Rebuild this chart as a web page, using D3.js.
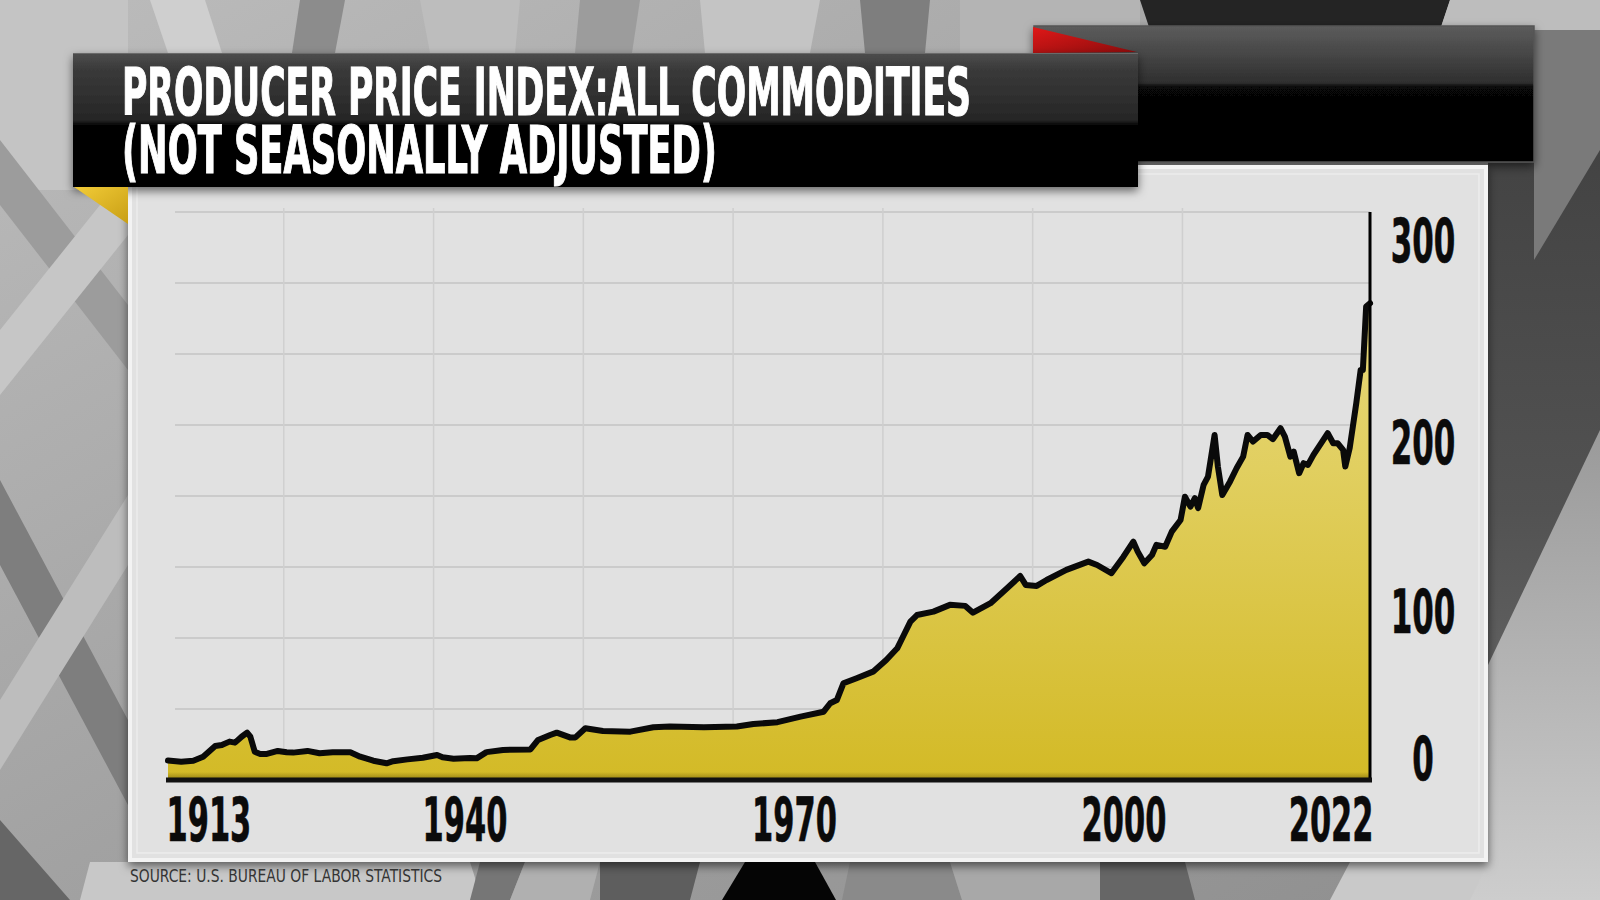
<!DOCTYPE html>
<html><head><meta charset="utf-8">
<script src="https://cdn.jsdelivr.net/npm/d3@7"></script>
<style>
html,body{margin:0;padding:0;background:#9a9a9a;overflow:hidden;}
svg{display:block;}
</style></head>
<body>
<svg id="chart" width="1600" height="900"></svg>
<script>
// ---------------- DATA ----------------
const years = [1913.0,1914.2,1915.3,1916.2,1917.3,1917.9,1918.6,1919.1,1919.7,1920.2,1920.5,1920.9,1921.4,1922.0,1923.0,1923.8,1924.4,1925.7,1926.8,1928.0,1929.6,1930.5,1931.7,1932.9,1933.5,1934.8,1936.2,1937.5,1938.0,1939.0,1940.5,1941.1,1942.0,1943.5,1946.0,1946.7,1947.8,1948.4,1949.6,1950.1,1951.0,1952.6,1955.1,1957.2,1958.7,1961.8,1964.8,1966.3,1968.5,1970.6,1972.7,1973.3,1973.9,1974.5,1975.7,1977.2,1978.4,1979.4,1980.0,1980.6,1981.2,1982.7,1984.2,1985.6,1986.3,1987.9,1989.4,1990.6,1991.1,1992.1,1993.0,1994.8,1996.8,1997.6,1998.9,2000.0,2000.9,2001.3,2001.9,2002.6,2003.0,2003.8,2004.4,2005.2,2005.6,2006.1,2006.5,2006.8,2007.3,2007.7,2008.3,2008.6,2009.0,2009.7,2010.3,2010.9,2011.3,2011.8,2012.5,2013.1,2013.6,2014.3,2014.7,2015.2,2015.5,2016.0,2016.4,2016.8,2017.3,2018.2,2018.6,2019.1,2019.5,2020.0,2020.2,2020.6,2021.2,2021.6,2021.8,2022.1,2022.45];
const ppiValues = [11.5,10.8,11.4,13.8,20.1,20.7,22.7,22.1,25.6,28.0,25.6,16.7,15.4,15.4,17.2,16.4,16.2,17.2,15.8,16.4,16.4,13.8,11.4,9.9,11.1,12.2,13.2,14.8,13.4,12.6,13.0,12.8,16.5,17.8,18.1,23.7,26.6,28.0,25.2,25.2,30.6,29.0,28.6,31.2,31.6,31.2,31.6,33.1,34.2,37.5,40.4,45.4,47.3,57.2,60.2,64.1,71.0,77.9,85.8,93.7,97.6,99.6,103.6,103.0,99.0,104.6,113.4,120.7,115.4,114.8,118.3,124.3,129.2,127.2,122.3,132.1,141.0,135.1,128.2,133.1,139.1,138.0,146.9,153.8,167.6,161.7,166.7,160.8,174.6,179.5,204.1,185.4,168.6,176.5,184.4,191.3,204.1,200.2,204.1,204.1,201.6,208.1,203.1,191.3,194.3,181.5,187.4,186.4,192.3,201.2,205.1,199.2,199.2,195.3,185.4,196.3,222.9,242.6,242.6,280.1,282.0];
const xTickYears = [1913, 1940, 1970, 2000, 2022];
const yTickValues = [0, 100, 200, 300];
const titleLines = ["PRODUCER PRICE INDEX:ALL COMMODITIES", "(NOT SEASONALLY ADJUSTED)"];
const sourceText = "SOURCE: U.S. BUREAU OF LABOR STATISTICS";

const series = years.map((yr, i) => ({year: yr, value: ppiValues[i]}));

// ---------------- SETUP ----------------
const svg = d3.select("#chart");
const defs = svg.append("defs");
const FONT = "'Liberation Sans Narrow','DejaVu Sans Condensed','Roboto','DejaVu Sans',sans-serif";

function linGrad(id, x1, y1, x2, y2, stops, user) {
  const g = defs.append("linearGradient").attr("id", id)
    .attr("x1", x1).attr("y1", y1).attr("x2", x2).attr("y2", y2);
  if (user) g.attr("gradientUnits", "userSpaceOnUse");
  stops.forEach(s => g.append("stop").attr("offset", s[0]).attr("stop-color", s[1]).attr("stop-opacity", s[2] == null ? 1 : s[2]));
}
linGrad("bgGrad", 0, 0, 1, 1, [[0, "#bcbcbc"], [0.5, "#a2a2a2"], [1, "#8e8e8e"]]);
linGrad("rightGrad", 0, 0, 0, 1, [[0, "#3e3e3e"], [0.55, "#525252"], [1, "#747474"]]);
linGrad("boxGrad", 0, 0, 0, 1, [[0, "#5c5c5c"], [0.2, "#474747"], [0.42, "#2e2e2e"], [0.445, "#070707"], [1, "#000"]]);
linGrad("bannerGrad", 0, 0, 0, 1, [[0, "#4e4e4e"], [0.12, "#3a3a3a"], [0.5, "#262626"], [0.535, "#060606"], [1, "#000"]]);
linGrad("redGrad", 0, 0, 1, 1, [[0, "#e01818"], [1, "#8a0c0c"]]);
linGrad("yelGrad", 0, 0, 1, 1, [[0, "#f2cc38"], [1, "#c89e14"]]);
linGrad("lightWedge", 0, 0, 0, 1, [[0, "#9a9a9a"], [1, "#cdcdcd"]]);

const flt = defs.append("filter").attr("id", "shadow").attr("x", "-5%").attr("y", "-10%").attr("width", "110%").attr("height", "130%");
flt.append("feDropShadow").attr("dx", 0).attr("dy", 4).attr("stdDeviation", 5).attr("flood-color", "#000").attr("flood-opacity", 0.55);

// ---------------- BACKGROUND (decor) ----------------
const bg = svg.append("g");
bg.append("rect").attr("width", 1600).attr("height", 900).attr("fill", "url(#bgGrad)");
const decor = [
  ["#c4c4c4", [[0,0],[128,0],[128,190],[0,190]]],
  ["#9c9c9c", [[0,140],[0,205],[128,370],[128,305]]],
  ["#c6c6c6", [[0,330],[0,395],[128,235],[128,170]]],
  ["#7e7e7e", [[0,480],[0,565],[128,805],[128,720]]],
  ["#bdbdbd", [[0,700],[0,770],[128,565],[128,495]]],
  ["#666666", [[0,820],[70,900],[0,900]]],
  ["#cfcfcf", [[150,0],[205,0],[222,53],[168,53]]],
  ["#8c8c8c", [[300,0],[345,0],[335,53],[292,53]]],
  ["#bdbdbd", [[420,0],[520,0],[515,53],[430,53]]],
  ["#9c9c9c", [[580,0],[640,0],[632,53],[575,53]]],
  ["#c4c4c4", [[700,0],[820,0],[810,53],[705,53]]],
  ["#7e7e7e", [[860,0],[930,0],[925,53],[865,53]]],
  ["#b4b4b4", [[960,0],[1140,0],[1140,53],[960,53]]],
  ["#242424", [[1140,0],[1450,0],[1440,30],[1150,30]]],
  ["#bdbdbd", [[1450,0],[1600,0],[1600,30],[1440,30]]],
  ["url(#rightGrad)", [[1488,30],[1600,30],[1600,900],[1488,900]]],
  ["#7a7a7a", [[1534,30],[1600,30],[1600,150],[1534,260]]],
  ["url(#lightWedge)", [[1600,430],[1600,900],[1380,900],[1488,665]]],
  ["#c8c8c8", [[90,862],[470,862],[482,900],[80,900]]],
  ["#767676", [[480,862],[525,862],[510,900],[470,900]]],
  ["#b0b0b0", [[525,862],[600,862],[590,900],[510,900]]],
  ["#5e5e5e", [[600,862],[700,862],[690,900],[600,900]]],
  ["#050505", [[745,862],[815,862],[836,900],[722,900]]],
  ["#8a8a8a", [[850,862],[950,862],[962,900],[842,900]]],
  ["#a8a8a8", [[950,862],[1100,862],[1100,900],[962,900]]],
  ["#666666", [[1100,862],[1185,862],[1195,900],[1100,900]]],
  ["#c9c9c9", [[1350,862],[1488,862],[1470,900],[1330,900]]]
];
bg.selectAll("polygon").data(decor).join("polygon")
  .attr("points", d => d[1].map(p => p.join(",")).join(" "))
  .attr("fill", d => d[0]);

// right dark box + red corner
svg.append("rect").attr("x", 1034).attr("y", 26).attr("width", 500).attr("height", 136)
  .attr("fill", "url(#boxGrad)").attr("stroke", "#555").attr("stroke-width", 1.5).attr("filter", "url(#shadow)");
svg.append("polygon").attr("points", "1033,27 1137,52 1033,53").attr("fill", "url(#redGrad)");

// ---------------- PANEL ----------------
svg.append("rect").attr("x", 128).attr("y", 165).attr("width", 1360).attr("height", 697)
  .attr("fill", "#e1e1e1").attr("filter", "url(#shadow)");
svg.append("rect").attr("x", 130).attr("y", 167).attr("width", 1356).attr("height", 693)
  .attr("fill", "none").attr("stroke", "#f3f3f3").attr("stroke-width", 4);
svg.append("rect").attr("x", 137).attr("y", 174).attr("width", 1342).attr("height", 679)
  .attr("fill", "none").attr("stroke", "#ececec").attr("stroke-width", 1.5);

// ---------------- SCALES ----------------
const x = d3.scaleLinear().domain([1913, 2022.45]).range([168, 1370]);
const y = d3.scaleLinear().domain([0, 336]).range([780, 212]);
const [yBottom, yTop] = y.range();

// decorative background grid (8 rows, 9 columns of the panel)
const gridRow = d3.scaleLinear().domain([0, 8]).range([yBottom, yTop]);
const gridCol = d3.scaleLinear().domain([0, 9]).range([134, 1482]);
const grid = svg.append("g");
grid.selectAll("line.h").data(d3.range(1, 9)).join("line").attr("class", "h")
  .attr("x1", 175).attr("x2", x.range()[1])
  .attr("y1", d => gridRow(d)).attr("y2", d => gridRow(d))
  .attr("stroke", "#cbcbcb").attr("stroke-width", 2);
grid.selectAll("line.v").data(d3.range(1, 8)).join("line").attr("class", "v")
  .attr("x1", d => gridCol(d)).attr("x2", d => gridCol(d))
  .attr("y1", yTop - 4).attr("y2", yBottom)
  .attr("stroke", "#cfcfcf").attr("stroke-width", 1.5);

// ---------------- AREA + LINE ----------------
linGrad("areaGrad", 0, yBottom, 0, yTop, [[0, "#d3ba26"], [0.55, "#e1cf60"], [1, "#ecdd88"]], true);
linGrad("baseShade", 0, yBottom - 8, 0, yBottom, [[0, "#5a4a00", 0], [1, "#5a4a00", 0.55]], true);

const area = d3.area().x(d => x(d.year)).y0(y(0)).y1(d => y(d.value)).curve(d3.curveLinear);
const line = d3.line().x(d => x(d.year)).y(d => y(d.value)).curve(d3.curveLinear);

svg.append("path").datum(series).attr("d", area).attr("fill", "url(#areaGrad)");
svg.append("rect").attr("x", x.range()[0]).attr("y", yBottom - 8).attr("width", x.range()[1] - x.range()[0]).attr("height", 8)
  .attr("fill", "url(#baseShade)");
svg.append("path").datum(series).attr("d", line).attr("fill", "none")
  .attr("stroke", "#0a0a0a").attr("stroke-width", 6).attr("stroke-linejoin", "round").attr("stroke-linecap", "round");

// right axis rule and baseline
svg.append("line").attr("x1", x.range()[1]).attr("x2", x.range()[1]).attr("y1", yTop).attr("y2", yBottom)
  .attr("stroke", "#000").attr("stroke-width", 3);
svg.append("line").attr("x1", x.range()[0] - 2).attr("x2", x.range()[1] + 2).attr("y1", yBottom).attr("y2", yBottom)
  .attr("stroke", "#111").attr("stroke-width", 5);

// ---------------- AXES ----------------
const DIGIT_W = 21.2; // target average glyph width of the condensed numerals

let _mCache = {};
function measureDigits(n) {
  if (_mCache[n]) return _mCache[n];
  const t = svg.append("text").attr("font-family", FONT).attr("font-weight", 700).attr("font-size", 60).text("0".repeat(n));
  const w = t.node().getComputedTextLength();
  t.remove();
  return (_mCache[n] = w);
}
function condense(sel, perChar) {
  sel.each(function () {
    const t = this.textContent;
    const w = this.getComputedTextLength();
    const target = t.length * perChar * (w / (measureDigits(t.length) || w));
    d3.select(this).attr("textLength", target).attr("lengthAdjust", "spacingAndGlyphs");
  });
}

const xAxis = svg.append("g").attr("transform", `translate(0,${yBottom})`)
  .call(d3.axisBottom(x).tickValues(xTickYears).tickFormat(d3.format("d")).tickSize(0));
xAxis.select(".domain").remove();
xAxis.selectAll("text")
  .attr("font-family", FONT).attr("font-weight", 700).attr("font-size", 60)
  .attr("fill", "#0b0b0b").attr("stroke", "#0b0b0b").attr("stroke-width", 0.6)
  .attr("dy", 0).attr("y", 61).attr("text-anchor", "middle")
  .call(condense, DIGIT_W);
// keep labels inside the baseline's horizontal extent
xAxis.selectAll(".tick").each(function (d) {
  const t = d3.select(this).select("text");
  const lw = +t.attr("textLength");
  const lo = x.range()[0] - 2 + lw / 2, hi = x.range()[1] + 3 - lw / 2;
  const c = Math.max(lo, Math.min(hi, x(d)));
  t.attr("x", c - x(d));
});

const yAxis = svg.append("g").attr("transform", `translate(${x.range()[1]},0)`)
  .call(d3.axisRight(y).tickValues(yTickValues).tickFormat(d3.format("d")).tickSize(0));
yAxis.select(".domain").remove();
yAxis.selectAll("text")
  .attr("font-family", FONT).attr("font-weight", 700).attr("font-size", 61)
  .attr("fill", "#0b0b0b").attr("stroke", "#0b0b0b").attr("stroke-width", 0.6)
  .attr("x", 53).attr("text-anchor", "middle").attr("dy", "0.36em")
  .call(condense, DIGIT_W);
// end labels are pinned to the edges of the plot band, inner labels sit at their values
const halfH = 22;
const [yMin, yMax] = d3.extent(yTickValues);
yAxis.selectAll(".tick").each(function (d) {
  let c = y(d);
  if (d === yMin) c = yBottom - halfH;
  if (d === yMax) c = yTop + 6 + halfH;
  d3.select(this).select("text").attr("y", c - y(d));
});

// ---------------- TITLE BANNER ----------------
svg.append("rect").attr("x", 73).attr("y", 53).attr("width", 1065).attr("height", 134)
  .attr("fill", "url(#bannerGrad)").attr("filter", "url(#shadow)");
svg.append("line").attr("x1", 73).attr("x2", 1138).attr("y1", 53.5).attr("y2", 53.5).attr("stroke", "#6a6a6a").attr("stroke-width", 1);
svg.append("polygon").attr("points", "74,187 128,187 128,224").attr("fill", "url(#yelGrad)");

const titleWidths = [849, 595];
const title = svg.append("text")
  .attr("font-family", FONT).attr("font-weight", 700).attr("font-size", 65)
  .attr("fill", "#fff").attr("stroke", "#fff").attr("stroke-width", 1.2);
title.selectAll("tspan").data(titleLines).join("tspan")
  .attr("x", 122).attr("y", (d, i) => 115 + i * 58)
  .attr("textLength", (d, i) => titleWidths[i]).attr("lengthAdjust", "spacingAndGlyphs")
  .text(d => d);

// ---------------- SOURCE ----------------
svg.append("text").attr("x", 130).attr("y", 882)
  .attr("font-family", FONT).attr("font-size", 17).attr("fill", "#343434")
  .attr("textLength", 312).attr("lengthAdjust", "spacingAndGlyphs")
  .text(sourceText);
</script>
</body></html>
